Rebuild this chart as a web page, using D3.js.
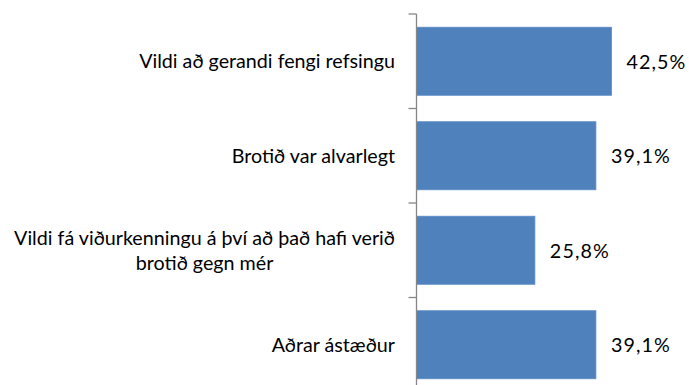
<!DOCTYPE html>
<html>
<head>
<meta charset="utf-8">
<script src="https://cdn.jsdelivr.net/npm/d3@7/dist/d3.min.js"></script>
<style>
  html, body { margin: 0; padding: 0; background: #fff; }
  svg { display: block; }
  text { font-family: Lato, "Open Sans", sans-serif; fill: #000; }
</style>
</head>
<body>
<svg id="chart" width="689" height="385"></svg>
<script>
// Reasons given (Icelandic labels), each label split into display lines
const categories = [
  ["Vildi að gerandi fengi refsingu"],
  ["Brotið var alvarlegt"],
  ["Vildi fá viðurkenningu á því að það hafi verið", "brotið gegn mér"],
  ["Aðrar ástæður"]
];
const values = [42.5, 39.1, 25.8, 39.1];
const valueLabels = ["42,5%", "39,1%", "25,8%", "39,1%"];

const width = 689, height = 385;
const axisX = 416.5;
const svg = d3.select("#chart");

const y = d3.scaleBand()
  .domain(d3.range(categories.length))
  .range([14, 392])
  .paddingInner(0.28)
  .paddingOuter(0.14);

const x = d3.scaleLinear()
  .domain([0, 50])
  .range([axisX, axisX + 229.4]);

// bars
svg.append("g").selectAll("rect")
  .data(values)
  .join("rect")
  .attr("x", x(0))
  .attr("y", (d, i) => y(i))
  .attr("width", d => x(d) - x(0))
  .attr("height", y.bandwidth())
  .attr("fill", "#4f81bd")
  .attr("stroke", "#5a8ac4")
  .attr("stroke-width", 0.8);

// category axis: vertical line with ticks on band boundaries
const axis = svg.append("g").attr("stroke", "#868686").attr("stroke-width", 1.3);
axis.append("line")
  .attr("x1", axisX).attr("x2", axisX)
  .attr("y1", 14).attr("y2", height);
const step = y.step();
const boundaries = d3.range(categories.length + 1).map(i => y(0) - step * y.paddingInner() / 2 + i * step);
axis.selectAll("line.tick")
  .data(boundaries)
  .join("line")
  .attr("class", "tick")
  .attr("x1", axisX - 8).attr("x2", axisX)
  .attr("y1", d => d).attr("y2", d => d);

// category labels: lines centred on each other, block right-aligned
const fontSize = 19.7;
const lineH = 25;
const labelRight = 395;
const labels = svg.append("g").attr("font-size", fontSize);
categories.forEach((lines, i) => {
  const cy = y(i) + y.bandwidth() / 2;
  const g = labels.append("g");
  const texts = lines.map((ln, k) => g.append("text")
    .attr("text-anchor", "middle")
    .attr("y", cy + (k - (lines.length - 1) / 2) * lineH)
    .attr("dy", "0.35em")
    .text(ln));
  const maxW = d3.max(texts, t => t.node().getComputedTextLength());
  texts.forEach(t => t.attr("x", labelRight - maxW / 2));
});

// value labels
svg.append("g").attr("font-size", 19.7)
  .attr("letter-spacing", 1.1)
  .selectAll("text")
  .data(values)
  .join("text")
  .attr("x", d => x(d) + 15)
  .attr("y", (d, i) => y(i) + y.bandwidth() / 2)
  .attr("dy", "0.38em")
  .text((d, i) => valueLabels[i]);
</script>
</body>
</html>
